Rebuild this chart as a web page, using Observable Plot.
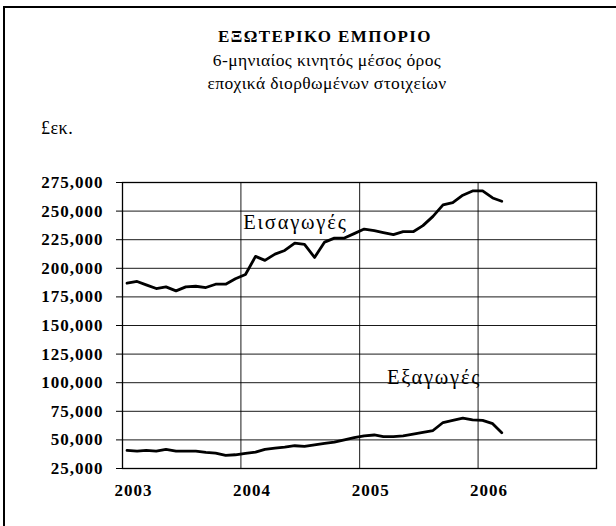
<!DOCTYPE html>
<html>
<head>
<meta charset="utf-8">
<script src="https://cdn.jsdelivr.net/npm/d3@7"></script>
<script src="https://cdn.jsdelivr.net/npm/@observablehq/plot@0.6"></script>
<style>
  html, body { margin: 0; padding: 0; background: #fff; }
  #wrap { position: relative; width: 616px; height: 526px; overflow: hidden; font-family: "Liberation Serif", "DejaVu Serif", serif; }
  #wrap svg { position: absolute; left: 0; top: 0; }
  #wrap svg text { letter-spacing: 1px; }
  #wrap svg g.series-labels text { letter-spacing: 1.8px; }
</style>
</head>
<body>
<div id="wrap"></div>
<script>
const titleText = "ΕΞΩΤΕΡΙΚΟ ΕΜΠΟΡΙΟ";
const subtitleLines = ["6-μηνιαίος κινητός μέσος όρος", "εποχικά διορθωμένων στοιχείων"];
const unitText = "£εκ.";

const months = [
  "2003-01","2003-02","2003-03","2003-04","2003-05","2003-06","2003-07","2003-08","2003-09","2003-10","2003-11","2003-12",
  "2004-01","2004-02","2004-03","2004-04","2004-05","2004-06","2004-07","2004-08","2004-09","2004-10","2004-11","2004-12",
  "2005-01","2005-02","2005-03","2005-04","2005-05","2005-06","2005-07","2005-08","2005-09","2005-10","2005-11","2005-12",
  "2006-01","2006-02","2006-03"
];
const imports = [
  187000,188500,185500,182300,183800,180300,183800,184300,183200,186100,186100,190800,
  194600,210400,206900,212400,215600,222000,220900,209500,222900,226400,226400,230300,
  234300,232900,231200,229400,232000,232000,237300,245400,255400,257500,263900,267600,
  267600,261500,258600
];
const exports = [
  40800,40200,40800,40200,41700,40200,40200,40200,39100,38500,36500,37000,
  38200,39300,41700,42800,43700,44900,44300,45700,46900,48100,50100,51900,
  53600,54300,52800,52800,53600,55000,56500,58200,65200,67000,69000,67500,
  67000,64200,56300
];
const yTicks = [25000,50000,75000,100000,125000,150000,175000,200000,225000,250000,275000];
const xTickYears = ["2003","2004","2005","2006"];
const xGridYears = ["2004","2005","2006"];
const xDomain = ["2003-01-01","2007-01-01"];
const seriesLabels = ["Εισαγωγές","Εξαγωγές"];
const labelDates = ["2004-01-08","2005-03-26"];
const labelValues = [234000, 99000];

const FONT = "'Liberation Serif', 'DejaVu Serif', serif";
const parse = s => new Date(s + "T00:00:00Z");
const mid = m => parse(m + "-15");
const rows = [];
months.forEach((m, i) => rows.push({date: mid(m), value: imports[i], series: "imp"}));
months.forEach((m, i) => rows.push({date: mid(m), value: exports[i], series: "exp"}));
const labels = seriesLabels.map((t, i) => ({text: t, date: parse(labelDates[i]), value: labelValues[i]}));

const chart = Plot.plot({
  width: 616,
  height: 526,
  marginLeft: 122,
  marginRight: 20,
  marginTop: 182,
  marginBottom: 58,
  style: {fontFamily: FONT, color: "#000", background: "transparent"},
  x: {type: "utc", domain: xDomain.map(parse)},
  y: {domain: [25000, 275000]},
  marks: [
    Plot.gridY(yTicks, {stroke: "#000", strokeOpacity: 0.9, strokeWidth: 1}),
    Plot.gridX(xGridYears.map(y => parse(y + "-01-01")), {stroke: "#000", strokeOpacity: 0.9, strokeWidth: 1}),
    Plot.frame({stroke: "#000", strokeWidth: 1.3}),
    Plot.axisY(yTicks, {
      tickFormat: d3.format(","), tickSize: 6, tickPadding: 13,
      fontSize: 17, fontWeight: "bold", label: null, stroke: "#000"
    }),
    Plot.axisX(xTickYears.map(y => parse(y + "-01-01")), {
      tickFormat: d3.utcFormat("%Y"), tickSize: 0, tickPadding: 15, dx: 11,
      fontSize: 17, fontWeight: "bold", label: null
    }),
    Plot.line(rows, {x: "date", y: "value", z: "series", stroke: "#000", strokeWidth: 2.8, strokeLinejoin: "round"}),
    Plot.text(labels, {x: "date", y: "value", text: "text", textAnchor: "start", lineAnchor: "bottom", fontSize: 20.5, fill: "#000", className: "series-labels"})
  ]
});

const wrap = document.getElementById("wrap");
wrap.appendChild(chart);

// overlay for titles and chart-area border
const ov = d3.create("svg").attr("width", 616).attr("height", 526)
  .attr("font-family", FONT);
ov.append("line").attr("x1", 4).attr("x2", 4).attr("y1", 6).attr("y2", 526).attr("stroke", "#000").attr("stroke-width", 2);
ov.append("line").attr("x1", 3).attr("x2", 616).attr("y1", 7).attr("y2", 7).attr("stroke", "#000").attr("stroke-width", 2);
ov.append("text").attr("x", 325).attr("y", 42).attr("text-anchor", "middle")
  .attr("font-size", 17).attr("font-weight", "bold").style("letter-spacing", "1.4px").text(titleText);
subtitleLines.forEach((t, i) => {
  ov.append("text").attr("x", 327).attr("y", 66 + i * 23).attr("text-anchor", "middle")
    .attr("font-size", 17.5).style("letter-spacing", "0.4px").text(t);
});
ov.append("text").attr("x", 41).attr("y", 134).attr("font-size", 18).style("letter-spacing", "0.5px").text(unitText);
wrap.appendChild(ov.node());
</script>
</body>
</html>
